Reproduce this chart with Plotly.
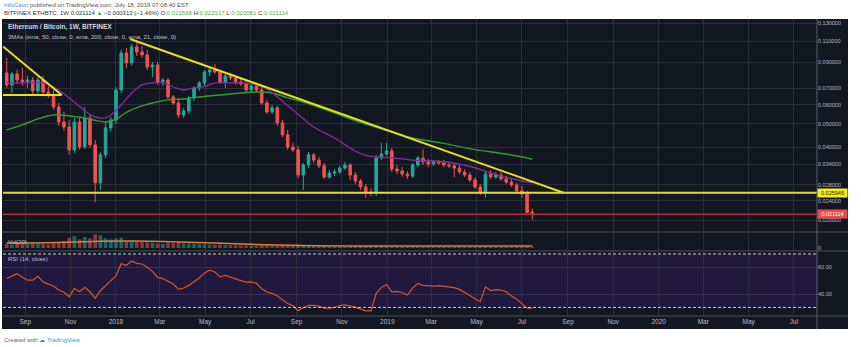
import math
import pandas as pd
import plotly.graph_objects as go

# ---------------- data ----------------
FIRST_WEEK = "2017-08-07"          # weekly candles, 102 weeks to 2019-07-15
N_WEEKS = 102

OPEN = [.0812,.0724,.0804,.0759,.0745,.0759,.0684,.0759,.0677,.0658,
        .0587,.0509,.0485,.0390,.0509,.0401,.0529,.0409,.0285,.0372,
        .0481,.0519,.0690,.0982,.0893,.1040,.0992,.0964,.0859,.0876,
        .0745,.0759,.0646,.0610,.0544,.0565,.0640,.0704,.0738,.0819,
        .0835,.0819,.0745,.0789,.0774,.0745,.0731,.0690,.0717,.0690,
        .0610,.0560,.0582,.0504,.0450,.0401,.0390,.0307,.0338,.0372,
        .0354,.0335,.0301,.0313,.0316,.0328,.0338,.0307,.0290,.0274,
        .0261,.0259,.0361,.0375,.0386,.0325,.0319,.0310,.0304,.0338,
        .0361,.0348,.0341,.0348,.0344,.0338,.0335,.0328,.0316,.0307,
        .0293,.0274,.0261,.0310,.0301,.0307,.0296,.0287,.0279,.0264,
        .0256,.021568]
HIGH = [.0936,.0819,.0835,.0851,.0789,.0781,.0789,.0789,.0717,.0690,
        .0610,.0560,.0519,.0529,.0529,.0587,.0549,.0429,.0382,.0509,
        .0534,.0710,.1011,.1030,.1070,.1111,.1050,.1011,.0901,.0901,
        .0774,.0774,.0658,.0628,.0582,.0652,.0717,.0752,.0835,.0859,
        .0884,.0835,.0804,.0812,.0796,.0774,.0759,.0731,.0731,.0717,
        .0628,.0598,.0593,.0519,.0472,.0417,.0405,.0344,.0382,.0379,
        .0365,.0344,.0322,.0325,.0335,.0348,.0344,.0316,.0296,.0282,
        .0271,.0372,.0417,.0417,.0397,.0338,.0331,.0319,.0344,.0368,
        .0393,.0358,.0354,.0354,.0354,.0348,.0344,.0338,.0325,.0316,
        .0301,.0282,.0316,.0322,.0316,.0316,.0304,.0298,.0285,.0277,
        .0264,.022317]
LOW = [.0704,.0671,.0731,.0717,.0704,.0658,.0665,.0658,.0640,.0571,
       .0490,.0467,.0372,.0379,.0390,.0393,.0397,.0237,.0266,.0361,
       .0463,.0499,.0671,.0851,.0868,.0954,.0936,.0835,.0781,.0724,
       .0717,.0634,.0598,.0529,.0529,.0549,.0622,.0684,.0717,.0789,
       .0804,.0731,.0704,.0759,.0724,.0717,.0677,.0677,.0677,.0598,
       .0549,.0549,.0490,.0441,.0390,.0382,.0298,.0266,.0328,.0344,
       .0328,.0296,.0296,.0304,.0310,.0322,.0293,.0282,.0266,.0247,
       .0251,.0251,.0354,.0368,.0316,.0310,.0301,.0296,.0298,.0331,
       .0338,.0331,.0335,.0338,.0331,.0328,.0301,.0310,.0301,.0287,
       .0269,.0254,.0247,.0296,.0296,.0290,.0282,.0274,.0256,.0247,
       .0214,.020081]
CLOSE = [.0724,.0804,.0759,.0745,.0759,.0684,.0759,.0677,.0658,.0587,
         .0509,.0485,.0390,.0509,.0401,.0529,.0409,.0285,.0372,.0481,
         .0519,.0690,.0982,.0893,.1040,.0992,.0964,.0859,.0876,.0745,
         .0759,.0646,.0610,.0544,.0565,.0640,.0704,.0738,.0819,.0835,
         .0819,.0745,.0789,.0774,.0745,.0731,.0690,.0717,.0690,.0610,
         .0560,.0582,.0504,.0450,.0401,.0390,.0307,.0338,.0372,.0354,
         .0335,.0301,.0313,.0316,.0328,.0338,.0307,.0290,.0274,.0261,
         .0259,.0361,.0375,.0386,.0325,.0319,.0310,.0304,.0338,.0361,
         .0348,.0341,.0348,.0344,.0338,.0335,.0328,.0316,.0307,.0293,
         .0274,.0261,.0310,.0301,.0307,.0296,.0287,.0279,.0264,.0256,
         .02143,.021114]

VOLUME = [180,150,200,170,160,220,190,170,150,200,260,
          300,450,520,380,480,420,600,560,430,380,
          420,450,300,320,280,260,240,220,200,180,
          230,210,250,200,190,180,170,160,150,140,
          150,130,120,120,110,100,100,95,110,120,
          100,110,120,130,100,140,120,90,80,75,
          80,70,65,60,60,75,80,90,100,85,
          120,100,85,70,65,60,60,70,75,65,
          60,55,55,50,50,60,55,50,55,60,
          70,80,60,55,50,50,55,60,65,90,40]
VOL_MA_IDX = [0, 10, 18, 25, 30, 40, 50, 60, 70, 80, 90, 101]
VOL_MA = [220, 240, 300, 310, 290, 220, 140, 100, 90, 85, 85, 85]

EMA21_IDX = [0,3,7,10,12,14,15,17,19,20,22,24,26,28,30,32,34,36,38,40,
             43,45,48,50,52,55,59,63,67,69,71,73,76,78,82,86,90,93,96,99,101]
EMA21 = [.0738,.0738,.0738,.0690,.0640,.0590,.0565,.0534,.0529,.0544,
         .0598,.0671,.0724,.0738,.0738,.0710,.0690,.0704,.0712,.0738,
         .0738,.0738,.0724,.0697,.0646,.0571,.0485,.0437,.0385,.0370,
         .0365,.0363,.0358,.0354,.0351,.0344,.0329,.0313,.0301,.0290,.0285]
EMA50_IDX = [0,3,6,9,12,15,17,19,21,23,26,28,31,34,37,41,45,48,51,54,
             57,62,68,74,78,84,90,96,101]
EMA50 = [.0472,.0495,.0524,.0544,.0539,.0529,.0517,.0509,.0522,.0558,
         .0593,.0610,.0628,.0634,.0646,.0658,.0671,.0677,.0671,.0640,
         .0616,.0565,.0507,.0463,.0437,.0415,.0391,.0375,.0357]

RSI = [51.6,53.5,55.3,52.5,50.4,50.4,53.3,49.1,47.5,46.0,
       43.0,41.4,38.0,44.2,41.7,45.0,41.7,36.8,42.5,46.5,
       50.0,53.5,62.7,61.5,64.7,63.0,62.5,60.0,57.0,52.5,
       51.6,49.5,47.5,43.5,44.5,46.5,49.5,52.0,55.8,57.8,
       56.5,52.8,53.9,52.5,51.2,50.0,49.0,49.1,48.0,44.0,
       41.5,40.5,38.5,35.6,33.0,31.2,27.5,29.8,31.5,31.6,
       31.0,29.4,29.4,30.0,31.4,31.9,31.0,30.2,28.7,27.5,
       27.5,40.5,45.0,47.2,41.7,42.0,41.2,39.3,44.5,47.9,
       46.5,46.2,46.0,46.3,45.8,45.0,44.8,43.5,41.5,39.0,
       36.5,34.3,45.4,42.6,43.3,43.0,41.7,38.5,36.2,33.0,
       29.4,29.4]

# drawings
TREND_DATES = ["2018-01-20", "2019-08-26"]
TREND_PRICES = [0.1122, 0.02594]
LEFT_DIAG_DATES = ["2017-08-02", "2017-10-20"]
LEFT_DIAG_PRICES = [0.1045, 0.0658]
LEFT_FLAT_DATES = ["2017-08-02", "2017-10-20"]
LEFT_FLAT_PRICES = [0.0658, 0.0658]
SUPPORT_LEVEL = 0.025945
LAST_PRICE = 0.021114

PRICE_TICKS = [0.02, 0.024, 0.028, 0.034, 0.04, 0.05, 0.06, 0.07, 0.09, 0.11, 0.13]
PRICE_TICK_TEXT = ["0.020000", "0.024000", "0.028000", "0.034000", "0.040000",
                   "0.050000", "0.060000", "0.070000", "0.090000", "0.110000", "0.130000"]
TIME_TICKS = ["2017-09-01", "2017-11-01", "2018-01-01", "2018-03-01", "2018-05-01",
              "2018-07-01", "2018-09-01", "2018-11-01", "2019-01-01", "2019-03-01",
              "2019-05-01", "2019-07-01", "2019-09-01", "2019-11-01", "2020-01-01",
              "2020-03-01", "2020-05-01", "2020-07-01"]
TIME_LABELS = ["Sep", "Nov", "2018", "Mar", "May", "Jul", "Sep", "Nov", "2019",
               "Mar", "May", "Jul", "Sep", "Nov", "2020", "Mar", "May", "Jul"]
RSI_TICKS = [40, 60]
RSI_TICK_TEXT = ["40.00", "60.00"]

# ---------------- layout geometry ----------------
W, H = 861, 347
PL, PR, PT, PB = 3, 817, 19, 316
X_START, X_END = "2017-08-02", "2020-08-01"


def fx(px):
    return (px - PL) / (PR - PL)


def fy(py):
    return (PB - py) / (PB - PT)


BG = "#131722"
GRID = "#2a2e3b"
AXT = "#b8bbc4"
UP = "#26a69a"
DN = "#ef5350"
FONT = "Liberation Sans"

dates = pd.date_range(FIRST_WEEK, periods=N_WEEKS, freq="7D")
dlist = list(dates)

fig = go.Figure()

fig.add_trace(go.Candlestick(
    x=dates, open=OPEN, high=HIGH, low=LOW, close=CLOSE,
    increasing=dict(line=dict(color=UP, width=1), fillcolor=UP),
    decreasing=dict(line=dict(color=DN, width=1), fillcolor=DN),
    whiskerwidth=0, xaxis="x", yaxis="y", hoverinfo="skip"))

fig.add_trace(go.Scatter(x=[dlist[i] for i in EMA50_IDX], y=EMA50, mode="lines",
                         line=dict(color="#2e9e2e", width=1.5, shape="spline"),
                         xaxis="x", yaxis="y", hoverinfo="skip"))
fig.add_trace(go.Scatter(x=[dlist[i] for i in EMA21_IDX], y=EMA21, mode="lines",
                         line=dict(color="#8a2c9c", width=1.3, shape="spline"),
                         xaxis="x", yaxis="y", hoverinfo="skip"))

YEL = "#e6df1e"
for xs, ys in [(TREND_DATES, TREND_PRICES), (LEFT_DIAG_DATES, LEFT_DIAG_PRICES),
               (LEFT_FLAT_DATES, LEFT_FLAT_PRICES),
               ([X_START, X_END], [SUPPORT_LEVEL, SUPPORT_LEVEL])]:
    fig.add_trace(go.Scatter(x=xs, y=ys, mode="lines", line=dict(color=YEL, width=2),
                             xaxis="x", yaxis="y", hoverinfo="skip"))
fig.add_trace(go.Scatter(x=[X_START, X_END], y=[LAST_PRICE, LAST_PRICE], mode="lines",
                         line=dict(color="#b3302f", width=1.5),
                         xaxis="x", yaxis="y", hoverinfo="skip"))

vol_colors = ["rgba(38,166,154,0.55)" if c >= o else "rgba(239,83,80,0.55)"
              for o, c in zip(OPEN, CLOSE)]
fig.add_trace(go.Bar(x=dates, y=VOLUME, marker=dict(color=vol_colors, line=dict(width=0)),
                     xaxis="x2", yaxis="y2", hoverinfo="skip"))
fig.add_trace(go.Scatter(x=[dlist[i] for i in VOL_MA_IDX], y=VOL_MA, mode="lines",
                         line=dict(color="#d9823b", width=1.5, shape="spline"),
                         xaxis="x2", yaxis="y2", hoverinfo="skip"))

fig.add_trace(go.Scatter(x=dates, y=RSI, mode="lines",
                         line=dict(color="#d4562c", width=1.2),
                         xaxis="x3", yaxis="y3", hoverinfo="skip"))

xcommon = dict(type="date", range=[X_START, X_END], tickmode="array",
               tickvals=TIME_TICKS, ticktext=TIME_LABELS, showgrid=True,
               gridcolor=GRID, gridwidth=1, zeroline=False, showline=False,
               ticks="", fixedrange=True, domain=[0, 1])

pr_lo, pr_hi = math.log10(0.01784), math.log10(0.1357)

fig.update_layout(
    width=W, height=H, autosize=False,
    margin=dict(l=PL, r=W - PR, t=PT, b=H - PB, pad=0),
    paper_bgcolor="white", plot_bgcolor=BG,
    showlegend=False, hovermode=False,
    font=dict(family=FONT, color=AXT),
    bargap=0.3,
    xaxis=dict(xcommon, anchor="y", showticklabels=False, rangeslider=dict(visible=False)),
    xaxis2=dict(xcommon, anchor="y2", matches="x", showticklabels=False),
    xaxis3=dict(xcommon, anchor="y3", matches="x", showticklabels=True,
                tickfont=dict(size=6.5, color=AXT, family=FONT)),
    yaxis=dict(domain=[fy(232), 1], type="log", range=[pr_lo, pr_hi], side="right",
               tickmode="array", tickvals=PRICE_TICKS, ticktext=PRICE_TICK_TEXT,
               showgrid=True, gridcolor=GRID, zeroline=False, ticks="",
               tickfont=dict(size=5.5, color=AXT), fixedrange=True),
    yaxis2=dict(domain=[fy(251), fy(232)], range=[-130, 700], side="right",
                tickmode="array", tickvals=[0], ticktext=["0"], showgrid=False,
                zeroline=False, ticks="", tickfont=dict(size=5.5, color=AXT), fixedrange=True),
    yaxis3=dict(domain=[0, fy(251)], range=[23.6, 72.2], side="right",
                tickmode="array", tickvals=RSI_TICKS, ticktext=RSI_TICK_TEXT,
                showgrid=True, gridcolor="#3a3452", zeroline=False, ticks="",
                tickfont=dict(size=5.5, color=AXT), fixedrange=True),
)

shapes = [
    # whole dark chart background incl. axis columns
    dict(type="rect", xref="paper", yref="paper", x0=fx(2), x1=fx(848), y0=fy(329), y1=fy(19),
         fillcolor=BG, line=dict(width=0), layer="below"),
    # RSI band
    dict(type="rect", xref="x3 domain", yref="y3", x0=0, x1=1, y0=30, y1=70,
         fillcolor="#21183d", line=dict(width=0), layer="below"),
    dict(type="line", xref="x3 domain", yref="y3", x0=0, x1=1, y0=70, y1=70,
         line=dict(color="#c9ccd4", width=1, dash="3px,2px")),
    dict(type="line", xref="x3 domain", yref="y3", x0=0, x1=1, y0=30, y1=30,
         line=dict(color="#c9ccd4", width=1, dash="3px,2px")),
]
for py in (232, 251, 316):
    shapes.append(dict(type="line", xref="paper", yref="paper", x0=fx(2), x1=fx(848),
                       y0=fy(py), y1=fy(py), line=dict(color="#3b3f4b", width=1.5)))
shapes.append(dict(type="line", xref="paper", yref="paper", x0=1, x1=1, y0=fy(329), y1=fy(19),
                   line=dict(color="#5a5e6a", width=1)))
fig.update_layout(shapes=shapes)

ann = []


def txt(x, y, s, size, color="#d1d4dc", xanchor="left", **kw):
    ann.append(dict(xref="paper", yref="paper", x=fx(x), y=fy(y), text=s, showarrow=False,
                    xanchor=xanchor, yanchor="middle", font=dict(size=size, color=color,
                                                                 family=FONT), **kw))


G = "#4caf50"
txt(2, 5, '<span style="color:#3d8fe0">InfoCaon</span> published on TradingView.com, '
    'July 18, 2019 07:08:40 EST', 6, color="#555")
txt(2, 13, 'BITFINEX:ETHBTC, 1W 0.021114 <span style="color:%s">▲</span> −0.000313 (−1.46%%) '
    'O:<span style="color:%s">0.021568</span> H:<span style="color:%s">0.022317</span> '
    'L:<span style="color:%s">0.020081</span> C:<span style="color:%s">0.021114</span>'
    % (G, G, G, G, G), 6, color="#333")
txt(6, 27, "<b>Ethereum / Bitcoin, 1W, BITFINEX</b>", 6.5, color="#d8dae0")
txt(6, 37, "3MAs (ema, 50, close, 0, ema, 200, close, 0, ema, 21, close, 0)", 6, color="#c0c3cb")
txt(6, 242, "Vol(20)", 6, color="#c0c3cb")
txt(6, 259, "RSI (14, close)", 6, color="#c0c3cb")
txt(2, 340, 'Created with <span style="color:#2196f3">☁ TradingView</span>', 6, color="#666")

ann.append(dict(xref="paper", yref="y", x=1, y=math.log10(SUPPORT_LEVEL), text="0.025945",
                showarrow=False, xanchor="left", yanchor="middle", bgcolor="#f5ee1a",
                font=dict(size=5.5, color="#111", family=FONT), width=29, height=8, borderpad=0))
ann.append(dict(xref="paper", yref="y", x=1, y=math.log10(LAST_PRICE), text="0.021114",
                showarrow=False, xanchor="left", yanchor="middle", bgcolor="#ec4d4a",
                font=dict(size=5.5, color="white", family=FONT), width=29, height=8, borderpad=0))
fig.update_layout(annotations=ann)

fig.write_html("out.html", config={"displayModeBar": False})
